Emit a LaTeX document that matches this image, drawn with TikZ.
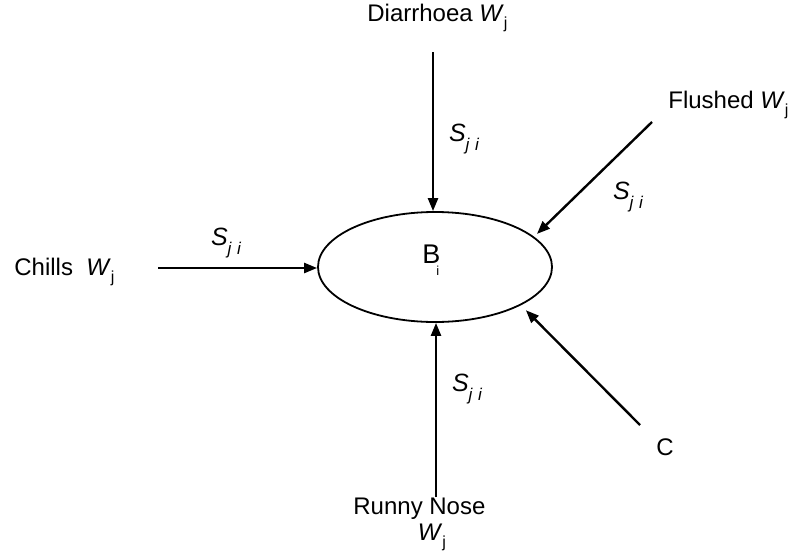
\documentclass[tikz,border=0pt]{standalone}
\usepackage{fontspec}
\setmainfont{Liberation Sans}
\usetikzlibrary{shapes.geometric,arrows.meta}
\newcommand\myW{\textit{W}\raisebox{-0.55ex}{\fontsize{8}{9}\selectfont j}}
\newcommand\myS{\textit{S}\raisebox{-0.75ex}{\fontsize{8.5}{9}\selectfont\itshape j\,\,i}}
\begin{document}
\begin{tikzpicture}[x=0.5pt,y=-0.5pt,
  lbl/.style={inner sep=0pt,font=\fontsize{12}{14}\selectfont},
  slbl/.style={inner sep=0pt,font=\fontsize{12.5}{14}\selectfont},
  arr/.style={line width=1.2pt,-{Triangle[length=6.5pt,width=5pt]}},
  bubble/.style={ellipse,draw,line width=0.9pt,minimum width=117pt,minimum height=55pt,inner sep=0pt}]
\useasboundingbox (0,0) rectangle (792,557);
\node[bubble] (bi) at (435,267) {};
\node[inner sep=0pt,anchor=base west,font=\fontsize{13.5}{15}\selectfont] (blbl) at (422,263) {B\hspace{-2pt}\raisebox{-6pt}{\fontsize{6.5}{7}\selectfont i}};
% Diarrhoea
\node[lbl,anchor=west] (dia) at (367,18) {Diarrhoea \myW};
\coordinate (d0) at (433,52);
\draw[arr] (d0) -- (d0 |- bi.north);
\node[slbl] (s1) at (464,139) {\myS};
% Flushed
\node[lbl,anchor=west] (flu) at (668,105) {Flushed \myW};
\coordinate (f0) at (652,122);
\draw[arr,shorten >=2pt] (f0) -- (bi.17);
\node[slbl] (s2) at (628,197) {\myS};
% Chills
\node[lbl,anchor=west] (chi) at (14,272) {Chills\ \ \myW};
\coordinate (c0) at (158,268);
\draw[arr] (c0) -- (c0 -| bi.west);
\node[slbl] (s3) at (226,243) {\myS};
% Runny Nose
\node[lbl,anchor=west] (run) at (353,509) {Runny Nose};
\node[lbl] (runw) at (432,537) {\myW};
\coordinate (r0) at (436,497);
\draw[arr] (r0) -- (r0 |- bi.south);
\node[slbl] (s4) at (467,389) {\myS};
% C
\node[lbl] (cc) at (665,447) {C};
\coordinate (k0) at (640,425);
\draw[arr,shorten >=3.5pt] (k0) -- (bi.-24);
\end{tikzpicture}
\end{document}
